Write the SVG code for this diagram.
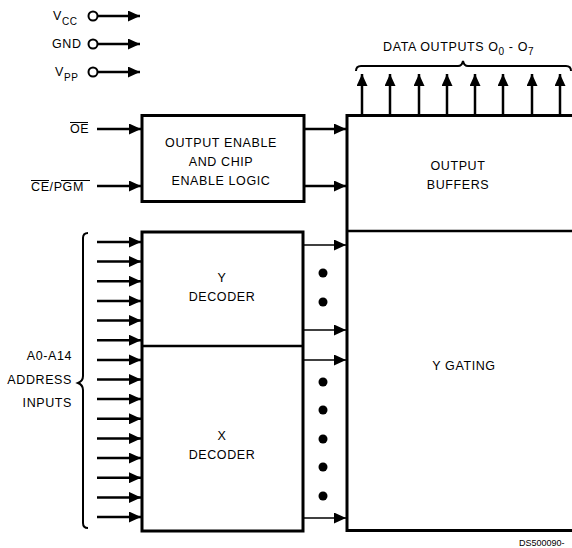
<svg xmlns="http://www.w3.org/2000/svg" width="572" height="548" viewBox="0 0 572 548">
<defs>
<marker id="ah" markerUnits="userSpaceOnUse" markerWidth="12" markerHeight="11" refX="12" refY="5.5" orient="auto">
<path d="M0,0 L12,5.5 L0,11 z" fill="#000"/>
</marker>
<style>
.t{font-family:"Liberation Sans",Arial,sans-serif;font-size:12.5px;letter-spacing:0.6px;fill:#000}
.c{text-anchor:middle}
.r{text-anchor:end}
.box{fill:#fff;stroke:#000;stroke-width:3}
.w{stroke:#000;stroke-width:2;fill:none}
.a{stroke:#000;stroke-width:2.5;fill:none;marker-end:url(#ah)}
.a2{stroke:#000;stroke-width:1.6;fill:none;marker-end:url(#ah)}
</style>
</defs>
<rect width="572" height="548" fill="#fff"/>

<g id="power">
<text class="t" x="53" y="20">V<tspan font-size="10" dy="5">CC</tspan></text>
<text class="t" x="52" y="48">GND</text>
<text class="t" x="55" y="76">V<tspan font-size="10" dy="5">PP</tspan></text>
<circle cx="93" cy="16" r="4.5" class="w" fill="#fff"/>
<circle cx="93" cy="44" r="4.5" class="w" fill="#fff"/>
<circle cx="93" cy="72" r="4.5" class="w" fill="#fff"/>
</g>

<g id="controls">
<text class="t" x="70" y="133">OE</text>
<line x1="70" y1="122.5" x2="88" y2="122.5" stroke="#000" stroke-width="1"/>
<text class="t" x="31" y="191">CE/PGM</text>
<line x1="31" y1="180.5" x2="49" y2="180.5" stroke="#000" stroke-width="1"/>
<line x1="61" y1="180.5" x2="90" y2="180.5" stroke="#000" stroke-width="1"/>
</g>

<g id="oe-logic">
<rect class="box" x="142" y="115.5" width="162" height="86"/>
<text class="t c" x="221" y="147">OUTPUT ENABLE</text>
<text class="t c" x="221" y="166">AND CHIP</text>
<text class="t c" x="221" y="185">ENABLE LOGIC</text>
</g>

<g id="big-box">
<rect class="box" x="347" y="115.5" width="240" height="415"/>
<line x1="347" y1="231" x2="580" y2="231" stroke="#000" stroke-width="2.5"/>
<text class="t c" x="458" y="170">OUTPUT</text>
<text class="t c" x="458" y="189">BUFFERS</text>
<text class="t c" x="464" y="370">Y GATING</text>
</g>

<g id="decoders">
<rect class="box" x="142" y="232" width="161" height="299"/>
<line x1="142" y1="346" x2="303" y2="346" stroke="#000" stroke-width="2.5"/>
<text class="t c" x="222" y="282">Y</text>
<text class="t c" x="222" y="301">DECODER</text>
<text class="t c" x="222" y="440">X</text>
<text class="t c" x="222" y="459">DECODER</text>
</g>

<g id="address-label">
<text class="t r" x="72" y="360">A0-A14</text>
<text class="t r" x="72" y="384">ADDRESS</text>
<text class="t r" x="72" y="407">INPUTS</text>
<path d="M88,233 Q83,233 83,238 L83,376 Q83,381 78,383 Q83,385 83,390 L83,523 Q83,528 88,528" class="w" stroke-width="1.5"/>
</g>

<g id="data-outputs">
<text class="t" x="383" y="51">DATA OUTPUTS O<tspan font-size="10" dy="4">0</tspan><tspan dy="-4"> - O</tspan><tspan font-size="10" dy="4">7</tspan></text>
<path d="M356,71 Q356,66 361,66 L458,66 Q462,66 463,61 Q464,66 468,66 L566,66 Q571,66 571,71" class="w" stroke-width="1.5"/>
</g>

<g id="connectors">
<line class="a" x1="98" y1="16" x2="140" y2="16"/>
<line class="a" x1="98" y1="44" x2="140" y2="44"/>
<line class="a" x1="98" y1="72" x2="140" y2="72"/>
<line class="a" x1="97" y1="129" x2="141" y2="129"/>
<line class="a" x1="97" y1="186" x2="141" y2="186"/>
<line class="a" x1="304" y1="129" x2="346" y2="129"/>
<line class="a" x1="304" y1="186" x2="346" y2="186"/>
<line class="a" x1="362" y1="114" x2="362" y2="74"/>
<line class="a" x1="390" y1="114" x2="390" y2="74"/>
<line class="a" x1="419" y1="114" x2="419" y2="74"/>
<line class="a" x1="447" y1="114" x2="447" y2="74"/>
<line class="a" x1="475" y1="114" x2="475" y2="74"/>
<line class="a" x1="503" y1="114" x2="503" y2="74"/>
<line class="a" x1="532" y1="114" x2="532" y2="74"/>
<line class="a" x1="560" y1="114" x2="560" y2="74"/>
<line class="a" x1="97" y1="242" x2="141" y2="242"/>
<line class="a" x1="97" y1="261.6" x2="141" y2="261.6"/>
<line class="a" x1="97" y1="281.3" x2="141" y2="281.3"/>
<line class="a" x1="97" y1="300.9" x2="141" y2="300.9"/>
<line class="a" x1="97" y1="320.6" x2="141" y2="320.6"/>
<line class="a" x1="97" y1="340.2" x2="141" y2="340.2"/>
<line class="a" x1="97" y1="359.9" x2="141" y2="359.9"/>
<line class="a" x1="97" y1="379.5" x2="141" y2="379.5"/>
<line class="a" x1="97" y1="399.1" x2="141" y2="399.1"/>
<line class="a" x1="97" y1="418.8" x2="141" y2="418.8"/>
<line class="a" x1="97" y1="438.4" x2="141" y2="438.4"/>
<line class="a" x1="97" y1="458.1" x2="141" y2="458.1"/>
<line class="a" x1="97" y1="477.7" x2="141" y2="477.7"/>
<line class="a" x1="97" y1="497.4" x2="141" y2="497.4"/>
<line class="a" x1="97" y1="517" x2="141" y2="517"/>
<line class="a2" x1="304" y1="245" x2="346" y2="245"/>
<line class="a2" x1="304" y1="330" x2="346" y2="330"/>
<line class="a2" x1="304" y1="360" x2="346" y2="360"/>
<line class="a2" x1="304" y1="518" x2="346" y2="518"/>
<g fill="#000">
<circle cx="323" cy="273" r="4.5"/>
<circle cx="323" cy="302" r="4.5"/>
<circle cx="323" cy="382" r="4.5"/>
<circle cx="323" cy="410" r="4.5"/>
<circle cx="323" cy="439" r="4.5"/>
<circle cx="323" cy="467" r="4.5"/>
<circle cx="323" cy="496" r="4.5"/>
</g>
</g>

<text x="519" y="546" font-family="Liberation Sans,Arial,sans-serif" font-size="9" fill="#000">DS500090-</text>
</svg>
